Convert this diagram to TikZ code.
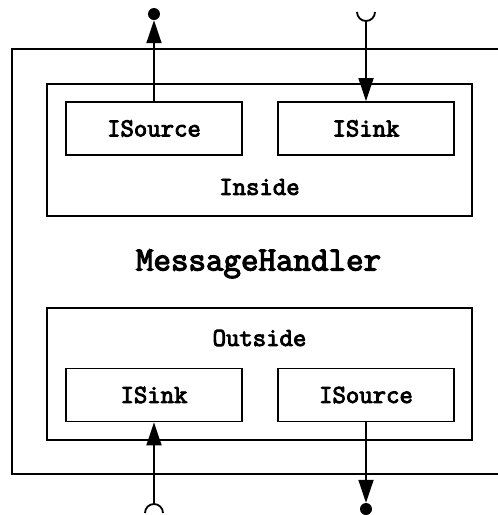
\documentclass[tikz,border=0pt]{standalone}
\usepackage{fontspec}
\newfontfamily\heavymono[FakeBold=3.5]{Latin Modern Mono}
\usetikzlibrary{arrows.meta}
\newcommand\labelfont{\fontsize{26}{30}\selectfont\heavymono}
\newcommand\titlefont{\fontsize{34}{38}\selectfont\heavymono}
\tikzset{
  boxline/.style={draw, line width=1.8pt},
  iface/.style={boxline, minimum width=176pt, minimum height=53pt, inner sep=0pt,
    font=\labelfont},
  group/.style={boxline, minimum width=425pt, minimum height=132pt, inner sep=0pt},
  lbl/.style={inner sep=0pt, font=\labelfont},
  ball/.style={circle, fill=black, minimum size=12pt, inner sep=0pt},
  link/.style={line width=1.8pt},
  tip/.style={-{Triangle[length=23pt,width=15pt]}},
}
\begin{document}
\begin{tikzpicture}[x=1pt,y=1pt]
\useasboundingbox (0,0) rectangle (498,-515);
\clip (0,0) rectangle (498,-515);
% outer component
\node[boxline, minimum width=508pt, minimum height=425pt, inner sep=0pt] (handler) at (266,-261.5) {};
\node[lbl, font=\titlefont] (hname) at (258.5,-264) {MessageHandler};
% inner part
\node[group] (inside) at (259.5,-150) {};
\node[iface] (isrcA) at (154,-128.5) {ISource};
\node[iface] (isnkA) at (366,-128.5) {ISink};
\node[lbl] (insidelbl) at (259.5,-187) {Inside};
% outer part
\node[group] (outside) at (259.5,-374) {};
\node[lbl] (outsidelbl) at (259.5,-338) {Outside};
\node[iface] (isnkB) at (154,-395) {ISink};
\node[iface] (isrcB) at (366,-395) {ISource};
% provided / required ports
\node[ball] (dotA) at (154,-14) {};
\node[ball] (dotB) at (366,-509) {};
\coordinate (cupA) at (366,-21);
\coordinate (capB) at (154,-504);
\draw[link] (cupA) ++(-9,9) arc[start angle=180, end angle=360, radius=9];
\draw[link] (capB) ++(9,-9) arc[start angle=0, end angle=180, radius=9];
% connectors
\draw[link, tip] (isrcA.north) -- (dotA.south);
\draw[link, tip] (cupA) -- (isnkA.north);
\draw[link, tip] (capB) -- (isnkB.south);
\draw[link, tip] (isrcB.south) -- (dotB.north);
\end{tikzpicture}
\end{document}
